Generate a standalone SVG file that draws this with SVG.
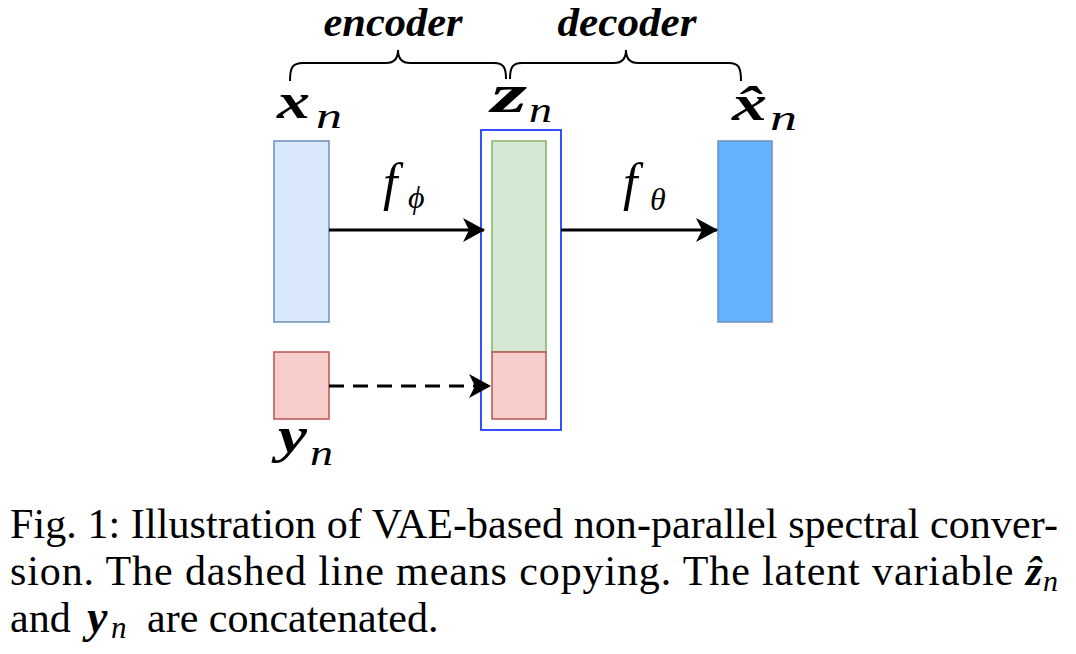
<svg xmlns="http://www.w3.org/2000/svg" width="1076" height="654" viewBox="0 0 1076 654">
  <style>
    .box { stroke-width: 1.5; }
    .vec { font-family: "Liberation Serif", serif; font-weight: bold; font-style: italic; fill: #000; }
    .sub { font-family: "Liberation Serif", serif; font-style: italic; fill: #000; }
    .lbl { font-family: "Liberation Serif", serif; font-weight: bold; font-style: italic; font-size: 40px; fill: #000; text-anchor: middle; }
    .fn { font-family: "Liberation Serif", serif; font-style: italic; fill: #000; }
    .cap { font-family: "Liberation Serif", "Times New Roman", serif; font-size: 42px; fill: #000; }
    .brace { fill: none; stroke: #000; stroke-width: 2; }
    .edge { fill: none; stroke: #000; stroke-width: 3; }
  </style>
  <defs>
    <marker id="arrow" viewBox="0 0 22 24" refX="21" refY="12" markerWidth="22" markerHeight="24" markerUnits="userSpaceOnUse" orient="auto">
      <path d="M0,0 L22,12 L0,24 L6,12 Z" fill="#000"/>
    </marker>
  </defs>

  <rect width="1076" height="654" fill="#fff"/>

  <!-- braces and stage labels -->
  <g id="encoder-brace">
    <path class="brace" d="M290,81 C290,68 292,63 303,63 L386,63 C394,63 398,58 398,50 C398,58 402,63 410,63 L494,63 C504,63 506,68 506,79"/>
    <text class="lbl" x="393" y="36" textLength="139" lengthAdjust="spacingAndGlyphs">encoder</text>
  </g>
  <g id="decoder-brace">
    <path class="brace" d="M510,79 C510,68 512,63 522,63 L614,63 C622,63 626,58 626,50 C626,58 630,63 638,63 L729,63 C739,63 741,68 741,81"/>
    <text class="lbl" x="627" y="36" textLength="139" lengthAdjust="spacingAndGlyphs">decoder</text>
  </g>

  <!-- input x_n -->
  <g id="node-x">
    <rect class="box" x="274" y="141" width="55" height="181" fill="#dae8fc" stroke="#6c8ebf"/>
    <text class="vec" x="277" y="118" font-size="50" textLength="33" lengthAdjust="spacingAndGlyphs">x</text>
    <text class="sub" x="316" y="128" font-size="36" textLength="26" lengthAdjust="spacingAndGlyphs">n</text>
  </g>

  <!-- speaker code y_n -->
  <g id="node-y">
    <rect class="box" x="274" y="352" width="55" height="67" fill="#f8cecc" stroke="#b85450"/>
    <text class="vec" x="278" y="452" font-size="50" textLength="29" lengthAdjust="spacingAndGlyphs">y</text>
    <text class="sub" x="310" y="465" font-size="36" textLength="23" lengthAdjust="spacingAndGlyphs">n</text>
  </g>

  <!-- latent z_n concatenated with y_n -->
  <g id="node-z">
    <rect x="481" y="130" width="80" height="300" fill="none" stroke="#1f3cff" stroke-width="1.8"/>
    <rect class="box" x="492" y="141" width="54" height="211" fill="#d5e8d4" stroke="#82b366"/>
    <rect class="box" x="492" y="352" width="54" height="67" fill="#f8cecc" stroke="#b85450"/>
    <text class="vec" x="491" y="112" font-size="54" textLength="36" lengthAdjust="spacingAndGlyphs">z</text>
    <text class="sub" x="529" y="122" font-size="36" textLength="23" lengthAdjust="spacingAndGlyphs">n</text>
  </g>

  <!-- reconstruction x̂_n -->
  <g id="node-xhat">
    <rect class="box" x="718" y="141" width="54" height="181" fill="#66b2ff" stroke="#6c8ebf"/>
    <text class="vec" transform="translate(732,120) scale(1.4,1)" font-size="50">x̂</text>
    <text class="sub" x="770" y="130" font-size="36" textLength="27" lengthAdjust="spacingAndGlyphs">n</text>
  </g>

  <!-- connectors -->
  <g id="connectors">
    <line class="edge" x1="329" y1="230" x2="484" y2="230" marker-end="url(#arrow)"/>
    <line class="edge" x1="561" y1="230" x2="717" y2="230" marker-end="url(#arrow)"/>
    <line class="edge" x1="329" y1="386" x2="490" y2="386" stroke-dasharray="15 9" marker-end="url(#arrow)"/>
    <text class="fn" x="383" y="200" font-size="52">f</text>
    <text class="fn" x="408" y="208" font-size="32">ϕ</text>
    <text class="fn" x="623" y="200" font-size="52">f</text>
    <text class="fn" x="650" y="210" font-size="32">θ</text>
  </g>

  <!-- caption -->
  <g id="caption">
    <text class="cap" x="10" y="538" textLength="1048" lengthAdjust="spacing">Fig. 1: Illustration of VAE-based non-parallel spectral conver-</text>
    <text class="cap" x="10" y="585" textLength="1048" lengthAdjust="spacing">sion. The dashed line means copying. The latent variable <tspan font-weight="bold" font-style="italic">ẑ</tspan><tspan font-style="italic" font-size="30" dy="6">n</tspan></text>
    <text class="cap" x="10" y="632">and <tspan x="87" font-size="46" font-weight="bold" font-style="italic">y</tspan><tspan x="111" font-style="italic" font-size="31" dy="6">n</tspan><tspan x="147" dy="-6">are concatenated.</tspan></text>
  </g>
</svg>
